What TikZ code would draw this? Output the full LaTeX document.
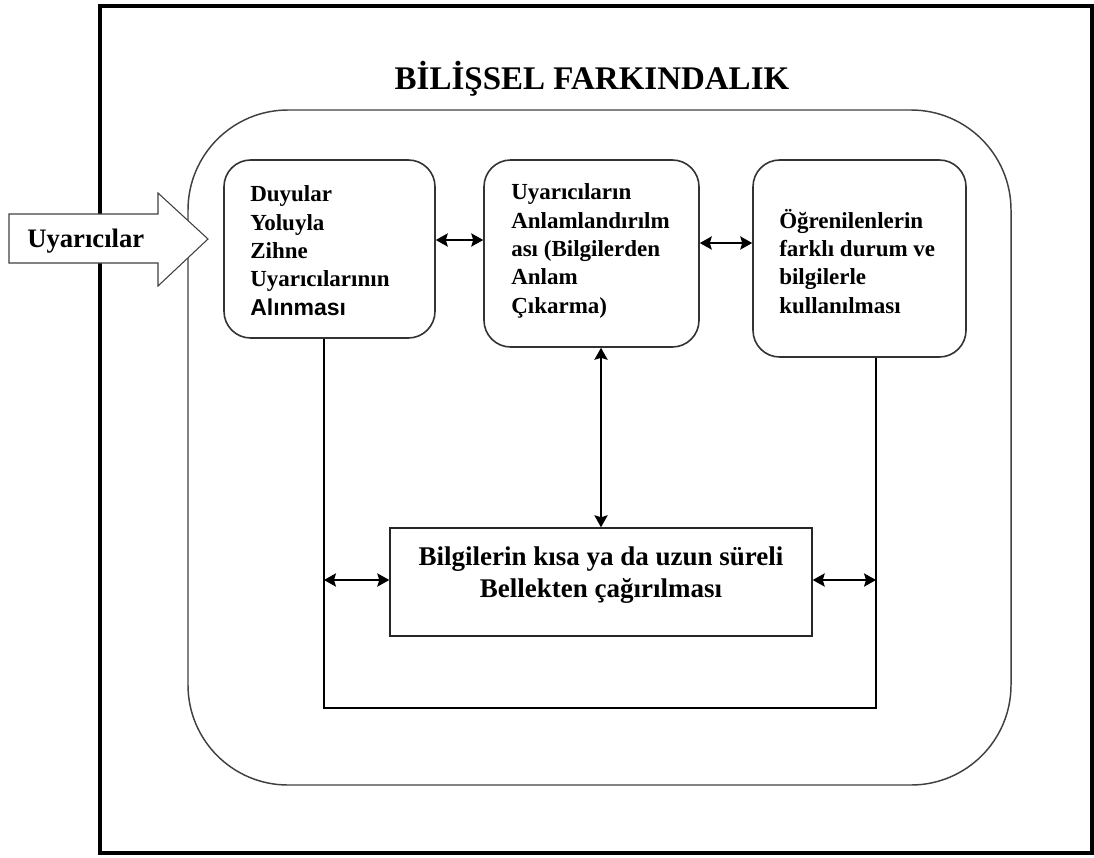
\documentclass[tikz,border=0pt]{standalone}
\usepackage{fontspec}
\setmainfont{Liberation Serif}
\newfontfamily\arialfont{Liberation Sans}
\usetikzlibrary{arrows.meta,fit}
\begin{document}
\begin{tikzpicture}[x=0.75pt,y=-0.75pt,
  boxstyle/.style={draw=black!80, line width=1.2pt, rounded corners=20pt, inner sep=0pt},
  txt/.style={anchor=base west, align=left, inner sep=0pt, font=\fontsize{17.25}{21.2}\selectfont\bfseries},
  conn/.style={line width=1pt},
  tip/.tip={Stealth[length=9pt,width=10pt,inset=1.5pt]},
  dbl/.style={line width=1pt, tip-tip}
]
\useasboundingbox (0,0) rectangle (1094,857);
% outer frame
\node[fit={(100,6) (1092,853)}, inner sep=0pt, draw, line width=3pt] (frame) {};
% big rounded area
\node[fit={(188,110) (1011,785)}, inner sep=0pt, draw=black!75, line width=1.1pt, rounded corners=75pt] (aware) {};
% title
\node[font=\fontsize{24.75}{28}\selectfont\bfseries, anchor=base, inner sep=0pt] (title) at (592,89) {BİLİŞSEL FARKINDALIK};
% boxes
\node[boxstyle, fit={(224,160) (435,338)}] (b1) {};
\node[boxstyle, fit={(484,160) (699,347)}] (b2) {};
\node[boxstyle, fit={(753,160) (966,357)}] (b3) {};
\node[fit={(390,528) (812,636)}, inner sep=0pt, draw=black!85, line width=1.1pt] (bb) {};
% texts (anchor = baseline of the last line)
\node[txt] (t1) at (250,315) {Duyular\\Yoluyla\\Zihne\\Uyarıcılarının\\{\arialfont Alınması}};
\node[txt] (t2) at (511,313) {Uyarıcıların\\Anlamlandırılm\\ası (Bilgilerden\\Anlam\\Çıkarma)};
\node[txt] (t3) at (779,313) {Öğrenilenlerin\\farklı durum ve\\bilgilerle\\kullanılması};
\node[font=\fontsize{20.25}{24}\selectfont\bfseries, align=center, anchor=base, inner sep=0pt] (bt) at (601,597) {Bilgilerin kısa ya da uzun süreli\\Bellekten çağırılması};
% input arrow
\draw[line width=0.8pt, draw=black!75, fill=white] (9,214) -- (158,214) -- (158,193) -- (208,239) -- (158,286) -- (158,263) -- (9,263) -- cycle;
\node[font=\fontsize{20}{24}\selectfont\bfseries, anchor=base west, inner sep=0pt] (ua) at (27,247) {Uyarıcılar};
% connectors
\coordinate (p1) at (324,708);
\coordinate (p2) at (876,708);
\draw[conn] (b1.south -| p1) |- (p2) -- (b3.south -| p2);
\draw[dbl] (b1.east |- 0,240) -- (b2.west |- 0,240);
\draw[dbl] (b2.east |- 0,243) -- (b3.west |- 0,243);
\draw[dbl] (b2.south -| bb.north) -- (bb.north);
\draw[dbl] (p1 |- 0,580) -- (bb.west |- 0,580);
\draw[dbl] (bb.east |- 0,580) -- (p2 |- 0,580);
\end{tikzpicture}
\end{document}
